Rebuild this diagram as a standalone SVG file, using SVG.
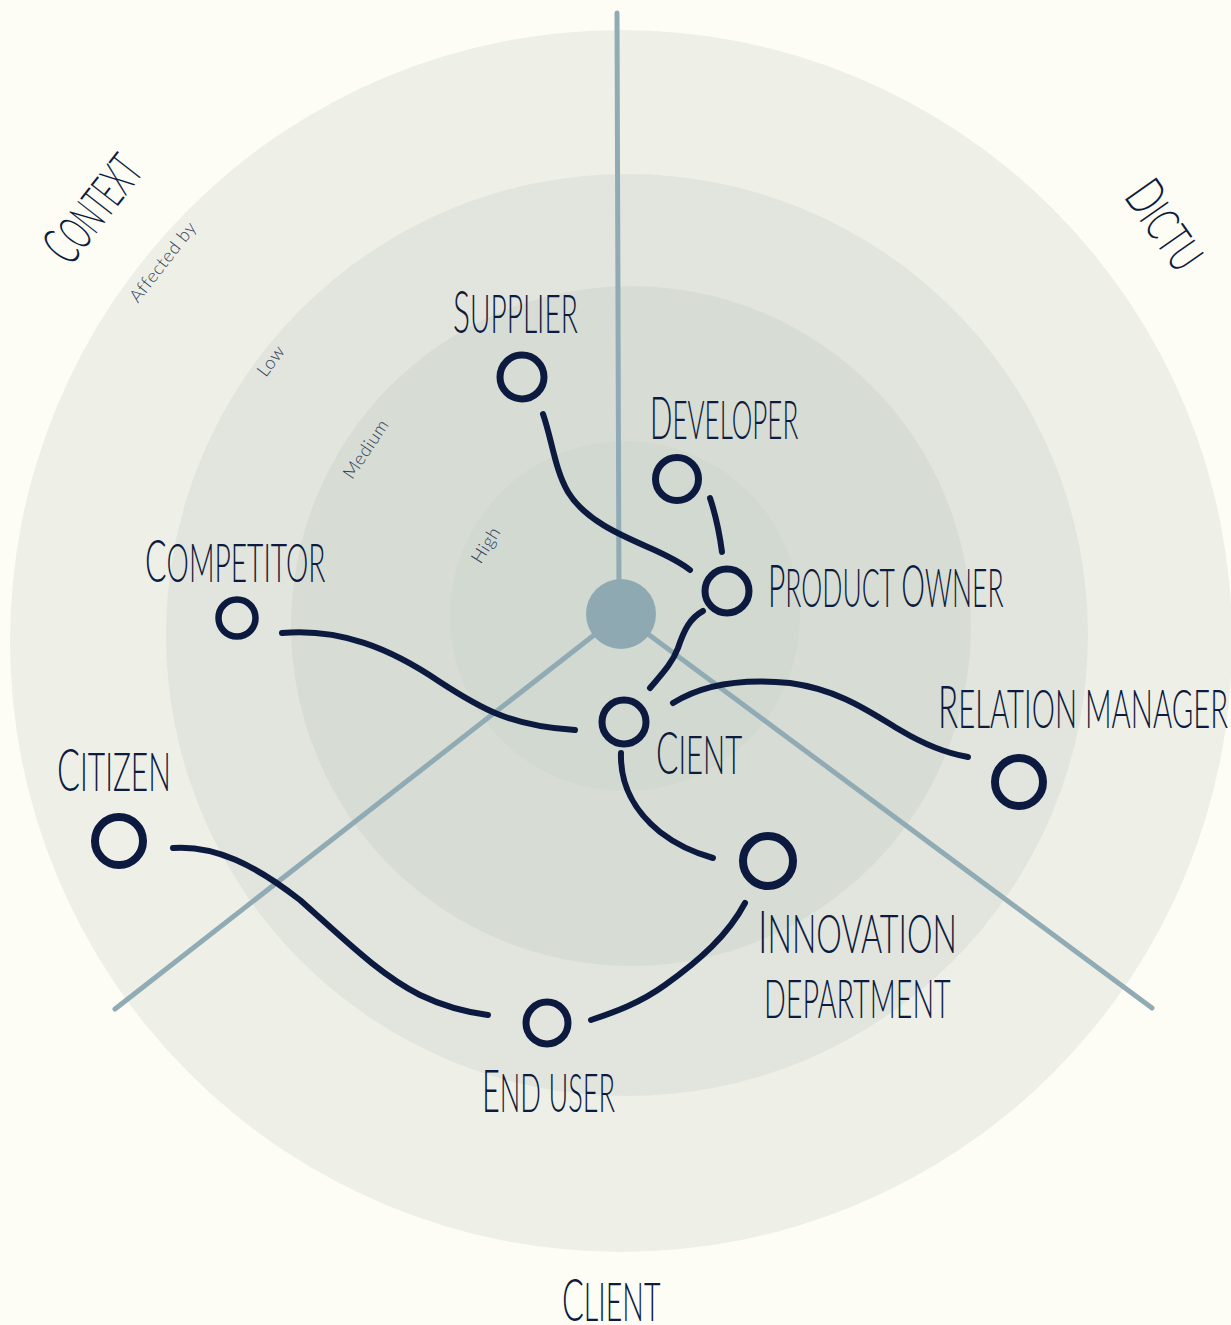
<svg xmlns="http://www.w3.org/2000/svg" width="1231" height="1325" viewBox="0 0 1231 1325">
  <style>
    .ring0 { fill: #eef0e8; }
    .ring1 { fill: #e2e5dd; }
    .ring2 { fill: #d7ddd4; }
    .ring3 { fill: #d2d9d0; }
    .axis { stroke: #91abb5; stroke-width: 5; stroke-linecap: round; fill: none; }
    .hub { fill: #8fa9b3; }
    .node { fill: none; stroke: #0c1a40; stroke-width: 7; }
    .link { fill: none; stroke: #0c1a40; stroke-width: 6; stroke-linecap: round; }
    .lbl { font-family: Lato, "Open Sans", "Liberation Sans", sans-serif; font-weight: 300; font-size: 60px; fill: #0d1b3e; }
    .sc { font-size: 53px; text-transform: uppercase; }
    .lvl { font-family: Lato, "Open Sans", "Liberation Sans", sans-serif; font-weight: 300; font-size: 18px; fill: #2e3b5a; letter-spacing: 0.6px; }
  </style>

  <!-- page -->
  <rect width="1231" height="1325" fill="#fdfdf5"/>

  <!-- influence rings -->
  <g id="rings">
    <circle class="ring0" cx="621" cy="641" r="611"/>
    <circle class="ring1" cx="627" cy="635" r="461"/>
    <circle class="ring2" cx="631" cy="626" r="340"/>
    <circle class="ring3" cx="625" cy="616" r="175"/>
  </g>

  <!-- ring labels -->
  <g id="levels">
    <text class="lvl" text-anchor="middle" transform="translate(163,262) rotate(-52)" y="6">Affected by</text>
    <text class="lvl" text-anchor="middle" transform="translate(271,361) rotate(-53)" y="6">Low</text>
    <text class="lvl" text-anchor="middle" transform="translate(366,449) rotate(-56)" y="6">Medium</text>
    <text class="lvl" text-anchor="middle" transform="translate(486,545) rotate(-58)" y="6">High</text>
  </g>

  <!-- sector axes -->
  <g id="axes">
    <line class="axis" x1="617" y1="13" x2="619" y2="600"/>
    <line class="axis" x1="621" y1="614" x2="115" y2="1009"/>
    <line class="axis" x1="621" y1="614" x2="1152" y2="1008"/>
    <circle id="hub" class="hub" cx="621" cy="614" r="35"/>
  </g>

  <!-- sector titles (condensed with a horizontal scale) -->
  <g id="sectors">
    <text class="lbl" style="font-size:56px" transform="translate(92,207) rotate(-52) translate(-61,20) scale(0.528,1)"><tspan>C</tspan><tspan class="sc" style="font-size:49px">ontext</tspan></text>
    <text class="lbl" style="font-size:54px" transform="translate(1166,225) rotate(55) translate(-48,19) scale(0.642,1)"><tspan>D</tspan><tspan class="sc" style="font-size:48px">ictu</tspan></text>
    <text class="lbl" transform="translate(562,1321) scale(0.539,1)"><tspan>C</tspan><tspan class="sc">lient</tspan></text>
  </g>

  <!-- connectors -->
  <g id="links">
    <path class="link" d="M543,414 C552,440 555,470 568,492 C585,520 620,535 650,548 C668,556 680,562 690,570"/>
    <path class="link" d="M710,498 Q718,522 722,552"/>
    <path class="link" d="M703,611 C690,618 684,630 678,648 C672,664 660,676 650,688"/>
    <path class="link" d="M282,633 C340,628 390,648 440,682 C480,708 510,726 575,730"/>
    <path class="link" d="M673,703 C700,686 740,678 790,683 C840,690 870,712 900,730 C925,745 945,753 968,757"/>
    <path class="link" d="M621,753 C620,785 635,812 660,832 C678,846 695,853 713,858"/>
    <path class="link" d="M745,903 C728,935 700,960 665,985 C640,1003 615,1012 591,1020"/>
    <path class="link" d="M173,848 C215,845 255,865 300,900 C345,940 380,975 420,995 C445,1007 465,1012 488,1015"/>
  </g>

  <!-- stakeholders -->
  <g id="supplier">
    <circle class="node" cx="522" cy="377" r="22"/>
    <text class="lbl" transform="translate(453,333) scale(0.53,1)"><tspan>S</tspan><tspan class="sc">upplier</tspan></text>
  </g>
  <g id="developer">
    <circle class="node" cx="677" cy="479" r="21.5"/>
    <text class="lbl" transform="translate(650,439) scale(0.491,1)"><tspan>D</tspan><tspan class="sc">eveloper</tspan></text>
  </g>
  <g id="product-owner">
    <circle class="node" cx="727" cy="591" r="22"/>
    <text class="lbl" transform="translate(768,607) scale(0.5,1)"><tspan>P</tspan><tspan class="sc">roduct </tspan><tspan>O</tspan><tspan class="sc">wner</tspan></text>
  </g>
  <g id="competitor">
    <circle class="node" cx="237" cy="618" r="18.5" style="stroke-width:6.5"/>
    <text class="lbl" transform="translate(145,582) scale(0.532,1)"><tspan>C</tspan><tspan class="sc">ompetitor</tspan></text>
  </g>
  <g id="client">
    <circle class="node" cx="624" cy="722" r="22"/>
    <text class="lbl" transform="translate(656,774) scale(0.553,1)"><tspan>C</tspan><tspan class="sc">ient</tspan></text>
  </g>
  <g id="relation-manager">
    <circle class="node" cx="1019" cy="782" r="24" style="stroke-width:8"/>
    <text class="lbl" transform="translate(938,728) scale(0.553,1)"><tspan>R</tspan><tspan class="sc">elation manager</tspan></text>
  </g>
  <g id="citizen">
    <circle class="node" cx="119" cy="841" r="24" style="stroke-width:8"/>
    <text class="lbl" transform="translate(57,791) scale(0.566,1)"><tspan>C</tspan><tspan class="sc">itizen</tspan></text>
  </g>
  <g id="innovation-department">
    <circle class="node" cx="768" cy="861" r="25" style="stroke-width:8"/>
    <text class="lbl" transform="translate(758,953) scale(0.61,1)"><tspan>I</tspan><tspan class="sc">nnovation</tspan></text>
    <text class="lbl" transform="translate(764,1018) scale(0.542,1)"><tspan class="sc">department</tspan></text>
  </g>
  <g id="end-user">
    <circle class="node" cx="547" cy="1023" r="21"/>
    <text class="lbl" transform="translate(482,1112) scale(0.513,1)"><tspan>E</tspan><tspan class="sc">nd user</tspan></text>
  </g>
</svg>
